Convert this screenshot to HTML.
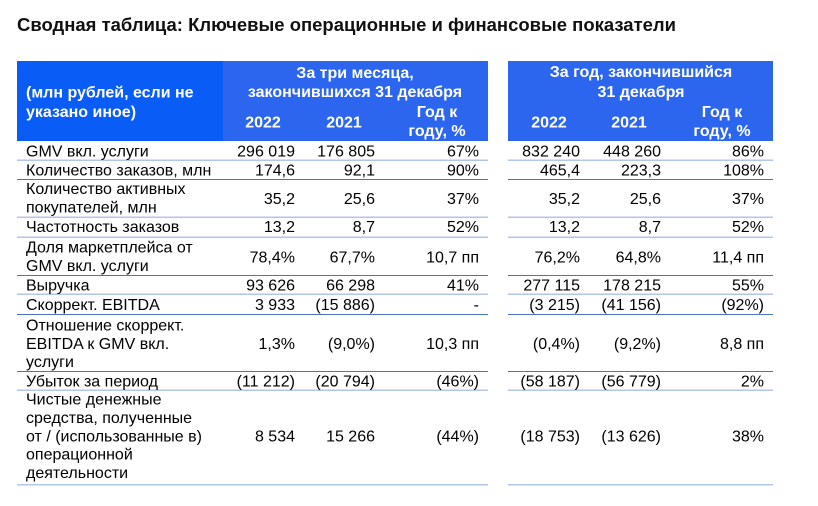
<!DOCTYPE html>
<html>
<head>
<meta charset="utf-8">
<style>
html,body{margin:0;padding:0;background:#fff;}
svg{display:block;}
text{font-family:"Liberation Sans", Arial, sans-serif;}
.t{font-size:16px;fill:#000;}
.h{font-size:16px;fill:#fff;font-weight:bold;}
.n{font-size:16px;fill:#000;text-anchor:end;}
.c{text-anchor:middle;}
</style>
</head>
<body>
<svg width="818" height="506" viewBox="0 0 818 506" xmlns="http://www.w3.org/2000/svg">
<rect width="818" height="506" fill="#fff"/>
<!-- Title -->
<text x="17" y="31" textLength="659" lengthAdjust="spacingAndGlyphs" style="font-size:18.5px;font-weight:bold;fill:#111;">Сводная таблица: Ключевые операционные и финансовые показатели</text>

<!-- Header backgrounds -->
<rect x="17" y="61" width="206" height="80" fill="#0a5cf6"/>
<rect x="223" y="61" width="265" height="80" fill="#2c65ee"/>
<rect x="508" y="61" width="265" height="80" fill="#2c65ee"/>

<!-- Header text -->
<text class="h" x="26" y="97.5">(млн рублей, если не</text>
<text class="h" x="26" y="117">указано иное)</text>

<text class="h c" x="355" y="78">За три месяца,</text>
<text class="h c" x="355" y="97">закончившихся 31 декабря</text>
<text class="h c" x="263" y="127.5">2022</text>
<text class="h c" x="344" y="127.5">2021</text>
<text class="h c" x="437" y="117">Год к</text>
<text class="h c" x="437" y="136">году, %</text>

<text class="h c" x="641" y="77">За год, закончившийся</text>
<text class="h c" x="641" y="97">31 декабря</text>
<text class="h c" x="549" y="127.5">2022</text>
<text class="h c" x="629" y="127.5">2021</text>
<text class="h c" x="722" y="117">Год к</text>
<text class="h c" x="722" y="136">году, %</text>

<!-- Lines: light (2px) and dark (1px) -->
<g fill="#b3c6e8">
  <rect x="17" y="159.5" width="471" height="1.5"/><rect x="508" y="159.5" width="265" height="1.5"/>
  <rect x="17" y="216.5" width="471" height="1.5"/><rect x="508" y="216.5" width="265" height="1.5"/>
  <rect x="17" y="236.5" width="471" height="1.5"/><rect x="508" y="236.5" width="265" height="1.5"/>
  <rect x="17" y="293.5" width="471" height="1.5"/><rect x="508" y="293.5" width="265" height="1.5"/>
  <rect x="17" y="389.5" width="471" height="1.5"/><rect x="508" y="389.5" width="265" height="1.5"/>
  <rect x="17" y="484" width="471" height="1.5"/><rect x="508" y="484" width="265" height="1.5"/>
</g>
<g fill="#4a74c2">
  <rect x="17" y="179" width="471" height="1"/><rect x="508" y="179" width="265" height="1"/>
  <rect x="17" y="275" width="471" height="1"/><rect x="508" y="275" width="265" height="1"/>
  <rect x="17" y="314" width="471" height="1"/><rect x="508" y="314" width="265" height="1"/>
  <rect x="17" y="371" width="471" height="1"/><rect x="508" y="371" width="265" height="1"/>
</g>

<!-- Row 1 -->
<text class="t" x="26" y="156.5">GMV вкл. услуги</text>
<text class="n" x="295" y="156.5">296 019</text><text class="n" x="375" y="156.5">176 805</text><text class="n" x="479" y="156.5">67%</text>
<text class="n" x="580" y="156.5">832 240</text><text class="n" x="661" y="156.5">448 260</text><text class="n" x="764" y="156.5">86%</text>

<!-- Row 2 -->
<text class="t" x="26" y="175.5">Количество заказов, млн</text>
<text class="n" x="295" y="175.5">174,6</text><text class="n" x="375" y="175.5">92,1</text><text class="n" x="479" y="175.5">90%</text>
<text class="n" x="580" y="175.5">465,4</text><text class="n" x="661" y="175.5">223,3</text><text class="n" x="764" y="175.5">108%</text>

<!-- Row 3 -->
<text class="t" x="26" y="194">Количество активных</text>
<text class="t" x="26" y="212.5">покупателей, млн</text>
<text class="n" x="295" y="204">35,2</text><text class="n" x="375" y="204">25,6</text><text class="n" x="479" y="204">37%</text>
<text class="n" x="580" y="204">35,2</text><text class="n" x="661" y="204">25,6</text><text class="n" x="764" y="204">37%</text>

<!-- Row 4 -->
<text class="t" x="26" y="232">Частотность заказов</text>
<text class="n" x="295" y="232">13,2</text><text class="n" x="375" y="232">8,7</text><text class="n" x="479" y="232">52%</text>
<text class="n" x="580" y="232">13,2</text><text class="n" x="661" y="232">8,7</text><text class="n" x="764" y="232">52%</text>

<!-- Row 5 -->
<text class="t" x="26" y="252.5">Доля маркетплейса от</text>
<text class="t" x="26" y="271">GMV вкл. услуги</text>
<text class="n" x="295" y="262.5">78,4%</text><text class="n" x="375" y="262.5">67,7%</text><text class="n" x="479" y="262.5">10,7 пп</text>
<text class="n" x="580" y="262.5">76,2%</text><text class="n" x="661" y="262.5">64,8%</text><text class="n" x="764" y="262.5">11,4 пп</text>

<!-- Row 6 -->
<text class="t" x="26" y="290.5">Выручка</text>
<text class="n" x="295" y="290.5">93 626</text><text class="n" x="375" y="290.5">66 298</text><text class="n" x="479" y="290.5">41%</text>
<text class="n" x="580" y="290.5">277 115</text><text class="n" x="661" y="290.5">178 215</text><text class="n" x="764" y="290.5">55%</text>

<!-- Row 7 -->
<text class="t" x="26" y="310">Скоррект. EBITDA</text>
<text class="n" x="295" y="310">3 933</text><text class="n" x="375" y="310">(15 886)</text><text class="n" x="479" y="310">-</text>
<text class="n" x="580" y="310">(3 215)</text><text class="n" x="661" y="310">(41 156)</text><text class="n" x="764" y="310">(92%)</text>

<!-- Row 8 -->
<text class="t" x="26" y="330.5">Отношение скоррект.</text>
<text class="t" x="26" y="349">EBITDA к GMV вкл.</text>
<text class="t" x="26" y="367">услуги</text>
<text class="n" x="295" y="349">1,3%</text><text class="n" x="375" y="349">(9,0%)</text><text class="n" x="479" y="349">10,3 пп</text>
<text class="n" x="580" y="349">(0,4%)</text><text class="n" x="661" y="349">(9,2%)</text><text class="n" x="764" y="349">8,8 пп</text>

<!-- Row 9 -->
<text class="t" x="26" y="386.5">Убыток за период</text>
<text class="n" x="295" y="386.5">(11 212)</text><text class="n" x="375" y="386.5">(20 794)</text><text class="n" x="479" y="386.5">(46%)</text>
<text class="n" x="580" y="386.5">(58 187)</text><text class="n" x="661" y="386.5">(56 779)</text><text class="n" x="764" y="386.5">2%</text>

<!-- Row 10 -->
<text class="t" x="26" y="404.5">Чистые денежные</text>
<text class="t" x="26" y="422.9">средства, полученные</text>
<text class="t" x="26" y="441.3">от / (использованные в)</text>
<text class="t" x="26" y="459.7">операционной</text>
<text class="t" x="26" y="478.1">деятельности</text>
<text class="n" x="295" y="441.3">8 534</text><text class="n" x="375" y="441.3">15 266</text><text class="n" x="479" y="441.3">(44%)</text>
<text class="n" x="580" y="441.3">(18 753)</text><text class="n" x="661" y="441.3">(13 626)</text><text class="n" x="764" y="441.3">38%</text>
</svg>
</body>
</html>
